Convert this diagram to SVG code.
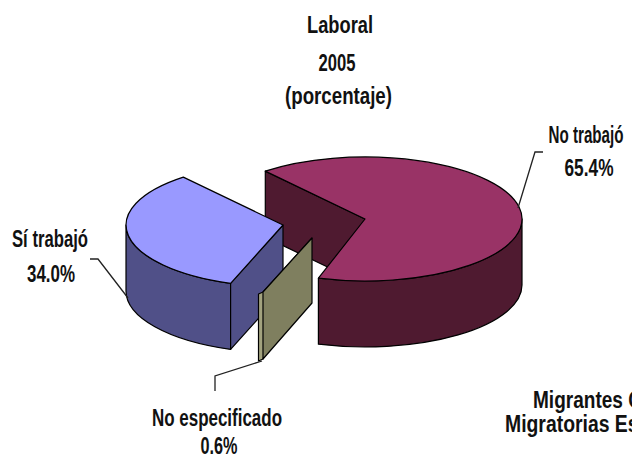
<svg xmlns="http://www.w3.org/2000/svg" width="632" height="457" viewBox="0 0 632 457">
<style>
.t{font-family:"Liberation Sans",Arial,sans-serif;font-weight:bold;font-size:23px;fill:#111;text-anchor:middle}
.e{stroke:#000;stroke-width:1.2;stroke-linejoin:round}
.mt{fill:#993366}
.ms{fill:#4f1a30}
.bt{fill:#9999ff}
.bs{fill:#505088}
.gs{fill:#7f7f5f}
.gl{fill:#a3a37f}
.ld{fill:none;stroke:#222;stroke-width:1.3}
</style>
<rect width="632" height="457" fill="#fff"/>
<g id="title">
<text class="t" x="340" y="33" textLength="66" lengthAdjust="spacingAndGlyphs">Laboral</text>
<text class="t" x="337" y="71" textLength="37" lengthAdjust="spacingAndGlyphs">2005</text>
<text class="t" x="338.5" y="104" textLength="107" lengthAdjust="spacingAndGlyphs">(porcentaje)</text>
</g>
<g id="no-trabajo">
<path class="e ms" d="M265.3,171.1 L365,219 L365,285 L265.3,237.1 Z"/>
<path class="e ms" d="M522,219 A157,62 0 0 1 318.4,278.2 L318.4,344.2 A157,62 0 0 0 522,285 Z"/>
<path class="e mt" d="M365,219 L265.3,171.1 A157,62 0 1 1 318.4,278.2 Z"/>
</g>
<g id="si-trabajo">
<path class="e bs" d="M126,225 A157,62 0 0 0 230.6,283.4 L230.6,349.4 A157,62 0 0 1 126,291 Z"/>
<path class="e bs" d="M283,225 L230.6,283.4 L230.6,349.4 L283,291 Z"/>
<path class="e bt" d="M283,225 L230.6,283.4 A157,62 0 0 1 183.3,177.1 Z"/>
</g>
<g id="no-especificado">
<path class="e gl" d="M312,238 L263,292 L258.5,294 L258.5,361 L263,359 Z"/>
<path class="e gs" d="M312,238 L263,292 L263,359 L312,303 Z"/>
</g>
<g id="connectors">
<polyline class="ld" points="518,208 535,152 543,152"/>
<polyline class="ld" points="90,259 98,259 128,298"/>
<polyline class="ld" points="262,361 215,376 215,391"/>
</g>
<g id="labels">
<text class="t" x="586" y="143" textLength="75" lengthAdjust="spacingAndGlyphs">No trabajó</text>
<text class="t" x="589" y="176" textLength="49" lengthAdjust="spacingAndGlyphs">65.4%</text>
<text class="t" x="50" y="247" textLength="76" lengthAdjust="spacingAndGlyphs">Sí trabajó</text>
<text class="t" x="51" y="282" textLength="48" lengthAdjust="spacingAndGlyphs">34.0%</text>
<text class="t" x="217" y="426" textLength="130" lengthAdjust="spacingAndGlyphs">No especificado</text>
<text class="t" x="219" y="454" textLength="37" lengthAdjust="spacingAndGlyphs">0.6%</text>
<text class="t" x="533" y="408" style="text-anchor:start" textLength="110" lengthAdjust="spacingAndGlyphs">Migrantes G</text>
<text class="t" x="505" y="432" style="text-anchor:start" textLength="140" lengthAdjust="spacingAndGlyphs">Migratorias Est</text>
</g>
</svg>
